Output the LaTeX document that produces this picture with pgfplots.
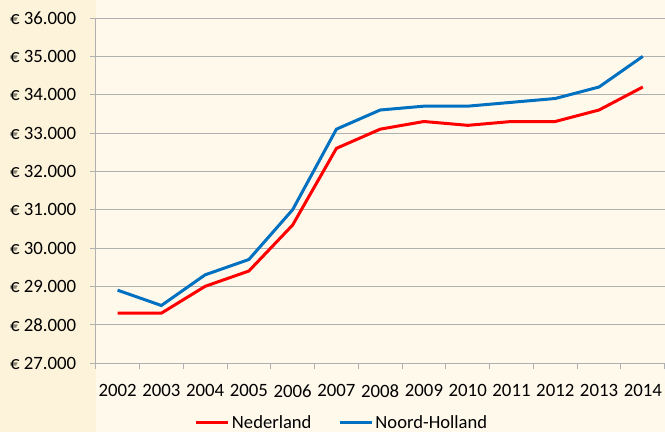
\documentclass[border=0pt]{standalone}
\usepackage{pgfplots}
\pgfplotsset{compat=1.18}
\usepackage{fontspec}
\setmainfont{Carlito}
\definecolor{bgmain}{RGB}{255,249,236}
\definecolor{bgleft}{RGB}{253,243,218}
\definecolor{gridgray}{RGB}{176,176,176}
\definecolor{nlred}{RGB}{255,0,0}
\definecolor{nhblue}{RGB}{0,112,192}

\begin{document}
\begin{tikzpicture}
% achtergrond
\fill[bgmain] (0,0) rectangle (665bp,432bp);
\fill[bgleft] (0,0) rectangle (96bp,432bp);

\begin{axis}[
    at={(95.7bp,69bp)},
    anchor=south west,
    scale only axis,
    width=569bp,
    height=345bp,
    xmin=-0.5, xmax=12.5,
    ymin=27000, ymax=36000,
    scaled y ticks=false,
    axis x line=bottom,
    axis y line=left,
    axis line style={draw=gridgray, line width=0.9bp, -},
    xtick={0,...,12},
    xticklabels={2002,2003,2004,2005,2006,2007,2008,2009,2010,2011,2012,2013,2014},
    major x tick style={draw=none},
    minor xtick={-0.5,0.5,...,12.5},
    minor x tick style={draw=gridgray, line width=0.9bp},
    minor tick length=6bp,
    ytick={27000,28000,...,36000},
    yticklabels={€ 27.000,€ 28.000,€ 29.000,€ 30.000,€ 31.000,€ 32.000,€ 33.000,€ 34.000,€ 35.000,€ 36.000},
    major tick length=6bp,
    tick align=outside,
    y tick style={draw=gridgray, line width=0.9bp},
    ymajorgrids,
    grid style={draw=gridgray, line width=0.9bp},
    tick label style={font=\fontsize{18.8bp}{22bp}\selectfont, text=black},
    xticklabel style={yshift=-12bp},
    yticklabel style={xshift=-10bp},
    legend columns=2,
    legend style={at={(0.433,-0.172)}, anchor=center, draw=none, fill=none,
        font=\fontsize{18.6bp}{22bp}\selectfont,
        /tikz/every even column/.append style={column sep=25bp}},
    legend image code/.code={\draw[#1] (0bp,0bp) -- (32bp,0bp);},
]
\addplot[nlred, line width=3bp] coordinates {
    (0,28300) (1,28300) (2,29000) (3,29400) (4,30600) (5,32600) (6,33100)
    (7,33300) (8,33200) (9,33300) (10,33300) (11,33600) (12,34200)
};
\addlegendentry{Nederland}
\addplot[nhblue, line width=3bp] coordinates {
    (0,28900) (1,28500) (2,29300) (3,29700) (4,31000) (5,33100) (6,33600)
    (7,33700) (8,33700) (9,33800) (10,33900) (11,34200) (12,35000)
};
\addlegendentry{Noord-Holland}
\end{axis}

\pgfresetboundingbox
\path (0,0) rectangle (665bp,432bp);
\end{tikzpicture}
\end{document}
